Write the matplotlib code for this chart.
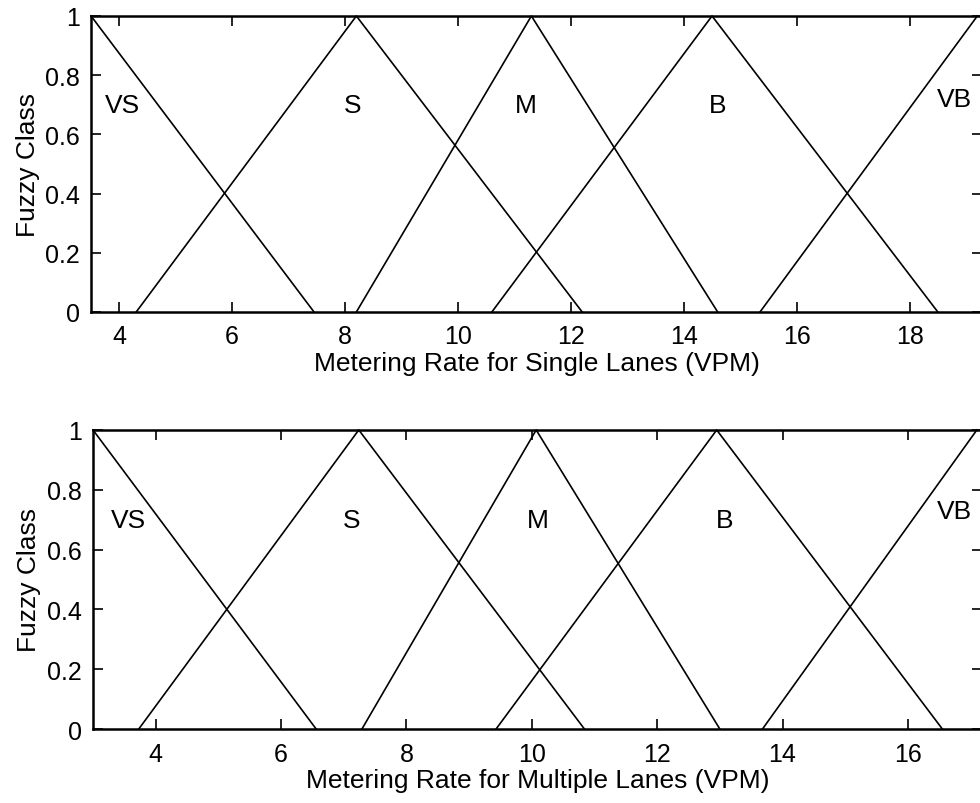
import matplotlib
matplotlib.use("Agg")
import matplotlib.pyplot as plt

plt.rcParams['font.family'] = ['Liberation Sans', 'DejaVu Sans']

# ---- data: triangular membership functions (x breakpoints, membership values)
classes = ["VS", "S", "M", "B", "VB"]

single_x = [
    [3.5, 7.45],
    [4.3, 8.2, 12.2],
    [8.2, 11.3, 14.6],
    [10.6, 14.5, 18.5],
    [15.35, 19.2],
]
single_y = [
    [1, 0],
    [0, 1, 0],
    [0, 1, 0],
    [0, 1, 0],
    [0, 1],
]
single_label_x = [4.05, 8.13, 11.2, 14.6, 18.8]
single_label_y = [0.70, 0.70, 0.70, 0.70, 0.72]
single_xlim = [3.5, 19.28]
single_xticks = [4, 6, 8, 10, 12, 14, 16, 18]

multi_x = [
    [3.0, 6.56],
    [3.73, 7.24, 10.84],
    [7.29, 10.07, 13.0],
    [9.43, 12.95, 16.55],
    [13.68, 17.1],
]
multi_y = [
    [1, 0],
    [0, 1, 0],
    [0, 1, 0],
    [0, 1, 0],
    [0, 1],
]
multi_label_x = [3.57, 7.12, 10.1, 13.07, 16.75]
multi_label_y = [0.70, 0.70, 0.70, 0.70, 0.73]
multi_xlim = [3.0, 17.18]
multi_xticks = [4, 6, 8, 10, 12, 14, 16]

yticks = [0, 0.2, 0.4, 0.6, 0.8, 1]
ytick_labels = ["0", "0.2", "0.4", "0.6", "0.8", "1"]

fig = plt.figure(figsize=(9.8, 8.04), dpi=100)
ax1 = fig.add_axes([0.0929, 0.6107, 0.909, 0.3682])
ax2 = fig.add_axes([0.0949, 0.092, 0.907, 0.372])


def draw(ax, xs, ys, lx, ly, xlim, xticks, xlabel):
    for x, y in zip(xs, ys):
        ax.plot(x, y, color="black", linewidth=1.2, clip_on=False)
    for name, tx, ty in zip(classes, lx, ly):
        ax.text(tx, ty, name, fontsize=19, ha="center", va="center")
    ax.set_xlim(xlim)
    ax.set_ylim(0, 1)
    ax.set_xticks(xticks)
    ax.set_yticks(yticks)
    ax.set_yticklabels(ytick_labels)
    ax.tick_params(direction="in", top=True, right=True, length=7,
                   width=1.2, labelsize=18)
    ax.tick_params(axis="x", pad=9)
    ax.tick_params(axis="y", pad=8)
    for s in ax.spines.values():
        s.set_linewidth(1.8)
    ax.set_xlabel(xlabel, fontsize=19, labelpad=2)
    ax.set_ylabel("Fuzzy Class", fontsize=19, labelpad=4)


draw(ax1, single_x, single_y, single_label_x, single_label_y, single_xlim,
     single_xticks, "Metering Rate for Single Lanes (VPM)")
draw(ax2, multi_x, multi_y, multi_label_x, multi_label_y, multi_xlim,
     multi_xticks, "Metering Rate for Multiple Lanes (VPM)")

fig.savefig("out.png", dpi=100)
